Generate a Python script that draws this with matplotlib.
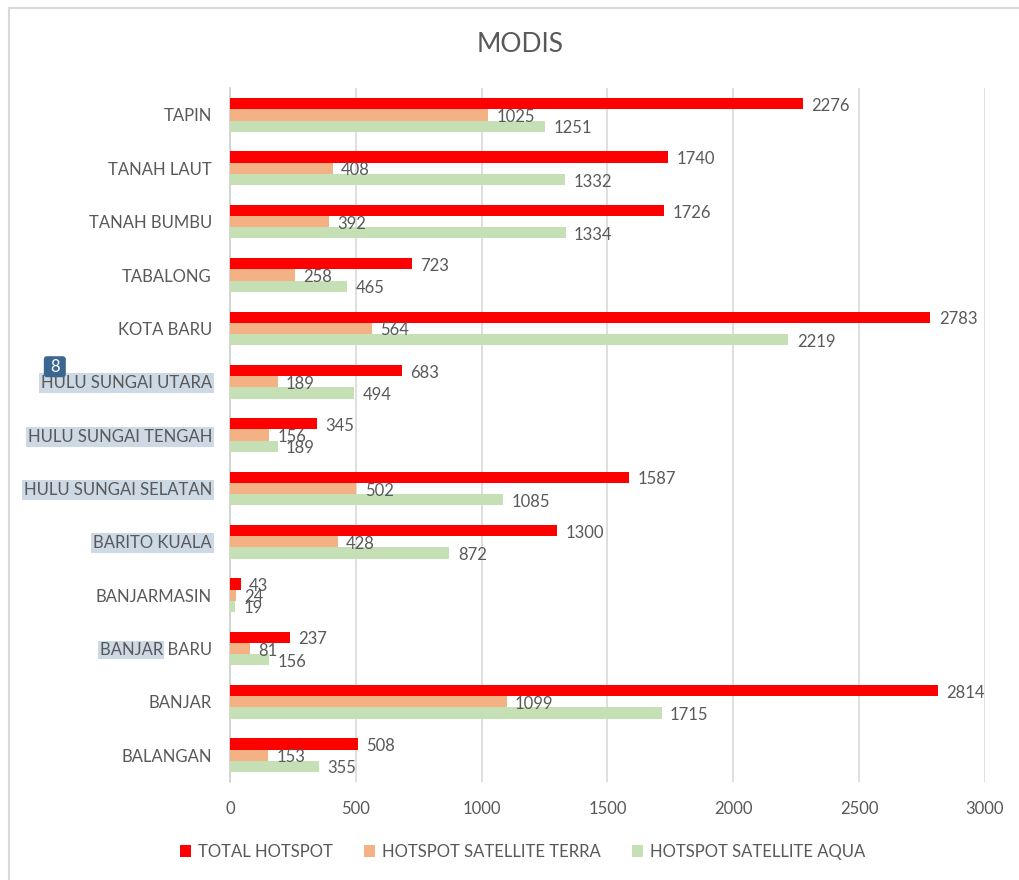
import matplotlib.pyplot as plt
from matplotlib.patches import Rectangle, FancyBboxPatch
import numpy as np

plt.rcParams['font.family'] = ['Lato', 'DejaVu Sans']

kabupaten = ['BALANGAN', 'BANJAR', 'BANJAR BARU', 'BANJARMASIN', 'BARITO KUALA',
             'HULU SUNGAI SELATAN', 'HULU SUNGAI TENGAH', 'HULU SUNGAI UTARA',
             'KOTA BARU', 'TABALONG', 'TANAH BUMBU', 'TANAH LAUT', 'TAPIN']
total = [508, 2814, 237, 43, 1300, 1587, 345, 683, 2783, 723, 1726, 1740, 2276]
terra = [153, 1099, 81, 24, 428, 502, 156, 189, 564, 258, 392, 408, 1025]
aqua = [355, 1715, 156, 19, 872, 1085, 189, 494, 2219, 465, 1334, 1332, 1251]
seri = ['TOTAL HOTSPOT', 'HOTSPOT SATELLITE TERRA', 'HOTSPOT SATELLITE AQUA']
warna = ['#ff0000', '#f4b183', '#c5e0b4']
teks = '#595959'

fig = plt.figure(figsize=(10.19, 8.8), dpi=100)
ax = fig.add_axes([0.2257, 0.1115, 0.7409, 0.7882])

y = np.arange(len(kabupaten))
h = 0.21
for nilai, off, c, lab in zip([total, terra, aqua], [h, 0, -h], warna, seri):
    bars = ax.barh(y + off, nilai, height=h, color=c, label=lab, zorder=3)
    for b, v in zip(bars, nilai):
        ax.annotate(str(v), (b.get_width(), b.get_y() + b.get_height() / 2),
                    xytext=(6, -1.5), textcoords='offset points', va='center',
                    ha='left', fontsize=12, color=teks, zorder=4)

ax.set_xlim(0, 3000)
ax.set_ylim(-0.5, len(kabupaten) - 0.5)
ax.set_xticks(np.arange(0, 3001, 500))
ax.set_yticks(y)
ax.set_yticklabels(kabupaten)
ax.grid(axis='x', color='#d9d9d9', linewidth=1.2, zorder=0)
for s in ['top', 'right', 'bottom']:
    ax.spines[s].set_visible(False)
ax.spines['left'].set_color('#d0d0d0')
ax.spines['left'].set_linewidth(1.2)
ax.tick_params(axis='both', length=0, labelsize=12, labelcolor=teks)
ax.tick_params(axis='x', pad=14)
ax.tick_params(axis='y', pad=13)

fig.text(0.51, 0.949, 'MODIS', ha='center', va='center', fontsize=19, color=teks)

ax.legend(loc='center', bbox_to_anchor=(0.513, 0.032), bbox_transform=fig.transFigure,
          ncol=3, frameon=False, fontsize=12, labelcolor=teks, handlelength=0.65,
          handleheight=0.65, columnspacing=1.9, handletextpad=0.4)

# bingkai grafik
fig.add_artist(plt.Line2D([0.009, 0.009], [0, 0.991], color='#d9d9d9', lw=1.5))
fig.add_artist(plt.Line2D([0.009, 1], [0.991, 0.991], color='#d9d9d9', lw=1.5))

# sorotan label
sorot = '#cdd9e4'
labels = ax.get_yticklabels()
for lbl in labels:
    if lbl.get_text() in ['HULU SUNGAI UTARA', 'HULU SUNGAI TENGAH',
                          'HULU SUNGAI SELATAN', 'BARITO KUALA']:
        lbl.set_bbox(dict(facecolor=sorot, edgecolor='none', pad=1.5))

fig.canvas.draw()
r = fig.canvas.get_renderer()
for lbl in labels:
    if lbl.get_text() == 'BANJAR BARU':
        bb = lbl.get_window_extent(r)
        tmp = fig.text(0, 0, 'BANJAR', fontsize=12)
        w = tmp.get_window_extent(r).width
        tmp.remove()
        fig.add_artist(Rectangle((bb.x0 - 1.5, bb.y0 - 1), w + 2, bb.height + 2,
                                 transform=None, facecolor=sorot, edgecolor='none',
                                 zorder=-1))
    if lbl.get_text() == 'HULU SUNGAI UTARA':
        bb = lbl.get_window_extent(r)
        fig.add_artist(FancyBboxPatch((bb.x0 + 3, bb.y1 - 2), 22, 21,
                                      boxstyle='round,pad=0,rounding_size=3',
                                      transform=None, facecolor='#3a6690',
                                      edgecolor='none', zorder=5))
        fig.text(bb.x0 + 14, bb.y1 + 8.5, '8', transform=None, ha='center',
                 va='center', color='white', fontsize=12, zorder=6)

fig.savefig('out.png', dpi=100)
